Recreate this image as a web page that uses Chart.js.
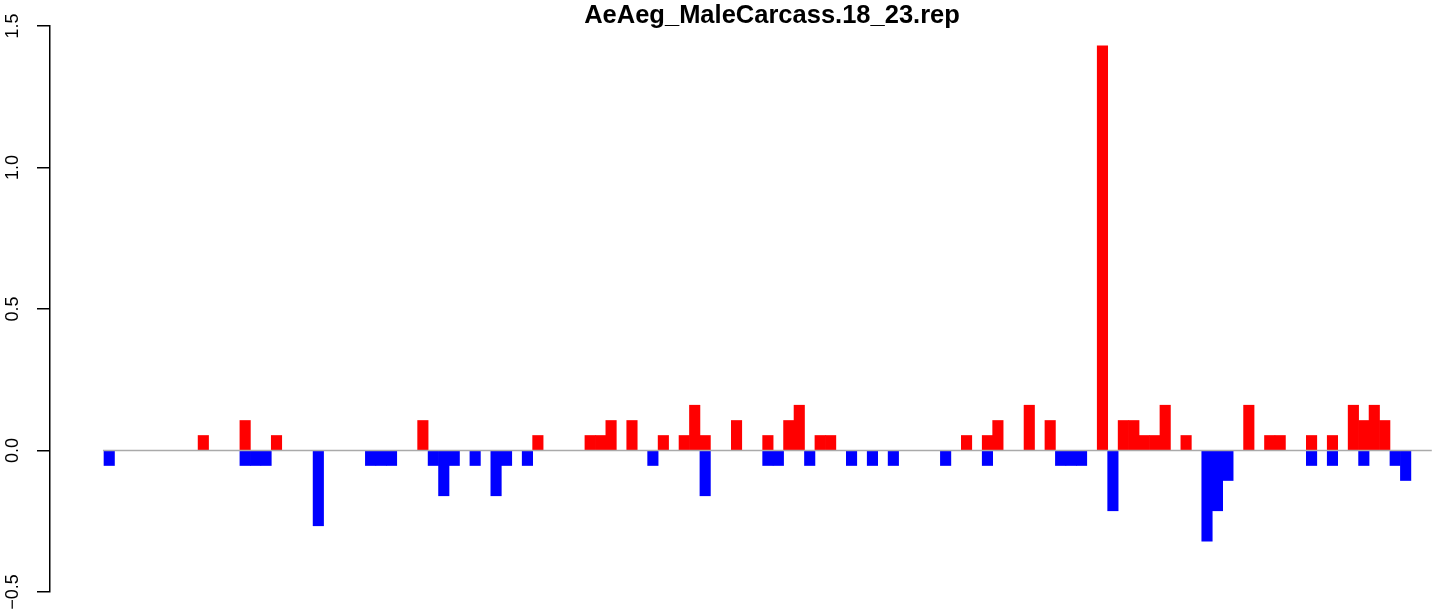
<!DOCTYPE html>
<html>
<head>
<meta charset="utf-8">
<title>AeAeg_MaleCarcass.18_23.rep</title>
<script src="https://cdn.jsdelivr.net/npm/chart.js@4.4.1/dist/chart.umd.min.js"></script>
<style>
  html, body { margin: 0; padding: 0; background: #ffffff; overflow: hidden; }
  /* the plot region runs a little past the right edge, like the cropped original */
  #wrap { width: 1441px; height: 613px; overflow: hidden; }
</style>
</head>
<body>
<div id="wrap"><canvas id="repChart" width="1494" height="613"></canvas></div>
<script>
// Values
const chartTitle = 'AeAeg_MaleCarcass.18_23.rep';

// one bar slot per bin
const bins = Array.from({ length: 125 }, (_, i) => i + 1);

// positive part, drawn red
const upValues = [
  0, 0, 0, 0, 0, 0, 0, 0, 0, 0.053, 0, 0, 0, 0.106, 0, 0, 0.053, 0, 0, 0, 0, 0, 0, 0, 0,
  0, 0, 0, 0, 0, 0.106, 0, 0, 0, 0, 0, 0, 0, 0, 0, 0, 0.053, 0, 0, 0, 0, 0.053, 0.053, 0.106, 0,
  0.106, 0, 0, 0.053, 0, 0.053, 0.16, 0.053, 0, 0, 0.106, 0, 0, 0.053, 0, 0.106, 0.16, 0, 0.053, 0.053, 0, 0, 0, 0, 0,
  0, 0, 0, 0, 0, 0, 0, 0.053, 0, 0.053, 0.106, 0, 0, 0.16, 0, 0.106, 0, 0, 0, 0, 1.43, 0, 0.106, 0.106, 0.053,
  0.053, 0.16, 0, 0.053, 0, 0, 0, 0, 0, 0.16, 0, 0.053, 0.053, 0, 0, 0.053, 0, 0.053, 0, 0.16, 0.106, 0.16, 0.106, 0, 0
];

// negative part, drawn blue
const downValues = [
  -0.053, 0, 0, 0, 0, 0, 0, 0, 0, 0, 0, 0, 0, -0.053, -0.053, -0.053, 0, 0, 0, 0, -0.266, 0, 0, 0, 0,
  -0.053, -0.053, -0.053, 0, 0, 0, -0.053, -0.16, -0.053, 0, -0.053, 0, -0.16, -0.053, 0, -0.053, 0, 0, 0, 0, 0, 0, 0, 0, 0,
  0, 0, -0.053, 0, 0, 0, 0, -0.16, 0, 0, 0, 0, 0, -0.053, -0.053, 0, 0, -0.053, 0, 0, 0, -0.053, 0, -0.053, 0,
  -0.053, 0, 0, 0, 0, -0.053, 0, 0, 0, -0.053, 0, 0, 0, 0, 0, 0, -0.053, -0.053, -0.053, 0, 0, -0.213, 0, 0, 0,
  0, 0, 0, 0, 0, -0.32, -0.213, -0.106, 0, 0, 0, 0, 0, 0, 0, -0.053, 0, -0.053, 0, 0, -0.053, 0, 0, -0.053, -0.106
];

const yTicks = [-0.5, 0, 0.5, 1, 1.5];
const yTickLabels = ['\u22120.5', '0.0', '0.5', '1.0', '1.5'];

// horizontal reference line at zero, in bin units
const zeroLineFrom = 0.4;
const zeroLineTo = 127.5;

Chart.defaults.font.family = "'Liberation Sans', Arial, Helvetica, sans-serif";
Chart.defaults.color = '#000000';

// gray line at y = 0, drawn over the bars
const zeroLinePlugin = {
    id: 'zeroLine',
    afterDatasetsDraw(chart) {
        const { ctx, scales: { x, y } } = chart;
        const yPix = y.getPixelForValue(0);
        ctx.save();
        ctx.strokeStyle = '#aaaaaa';
        ctx.lineWidth = 1.6;
        ctx.beginPath();
        ctx.moveTo(x.getPixelForValue(zeroLineFrom), yPix);
        ctx.lineTo(x.getPixelForValue(zeroLineTo), yPix);
        ctx.stroke();
        ctx.restore();
    }
};

const noZero = arr => arr.map(v => (v === 0 ? null : v));

new Chart(document.getElementById('repChart').getContext('2d'), {
    type: 'bar',
    data: {
        labels: bins,
        datasets: [
            {
                data: noZero(upValues),
                backgroundColor: '#ff0000',
                borderWidth: 0,
                barPercentage: 1,
                categoryPercentage: 1
            },
            {
                data: noZero(downValues),
                backgroundColor: '#0000ff',
                borderWidth: 0,
                barPercentage: 1,
                categoryPercentage: 1
            }
        ]
    },
    options: {
        responsive: false,
        animation: false,
        devicePixelRatio: 1,
        events: [],
        layout: {
            padding: { left: 0, top: 0, right: 0, bottom: 21 }
        },
        plugins: {
            legend: { display: false },
            tooltip: { enabled: false },
            title: {
                display: true,
                text: chartTitle,
                fullSize: false,
                color: '#000000',
                font: { size: 25.5, weight: 'bold', lineHeight: '20px' },
                padding: { top: 6, bottom: 0 }
            }
        },
        scales: {
            x: {
                type: 'linear',
                display: false,
                stacked: true,
                offset: false,
                min: -4.665,
                max: 133.45
            },
            y: {
                stacked: true,
                min: -0.5,
                max: 1.5,
                afterBuildTicks: axis => {
                    axis.ticks = yTicks.map(v => ({ value: v }));
                },
                afterFit: axis => {
                    axis.width = 50;
                },
                border: { display: true, color: '#000000', width: 1.5 },
                grid: {
                    drawOnChartArea: false,
                    drawTicks: true,
                    tickLength: 13,
                    color: '#000000',
                    lineWidth: 1.5
                },
                ticks: {
                    minRotation: 90,
                    maxRotation: 90,
                    crossAlign: 'center',
                    padding: 6.7,
                    autoSkip: false,
                    color: '#000000',
                    font: { size: 18 },
                    callback: (value, index) => yTickLabels[index]
                }
            }
        }
    },
    plugins: [zeroLinePlugin]
});
</script>
</body>
</html>
